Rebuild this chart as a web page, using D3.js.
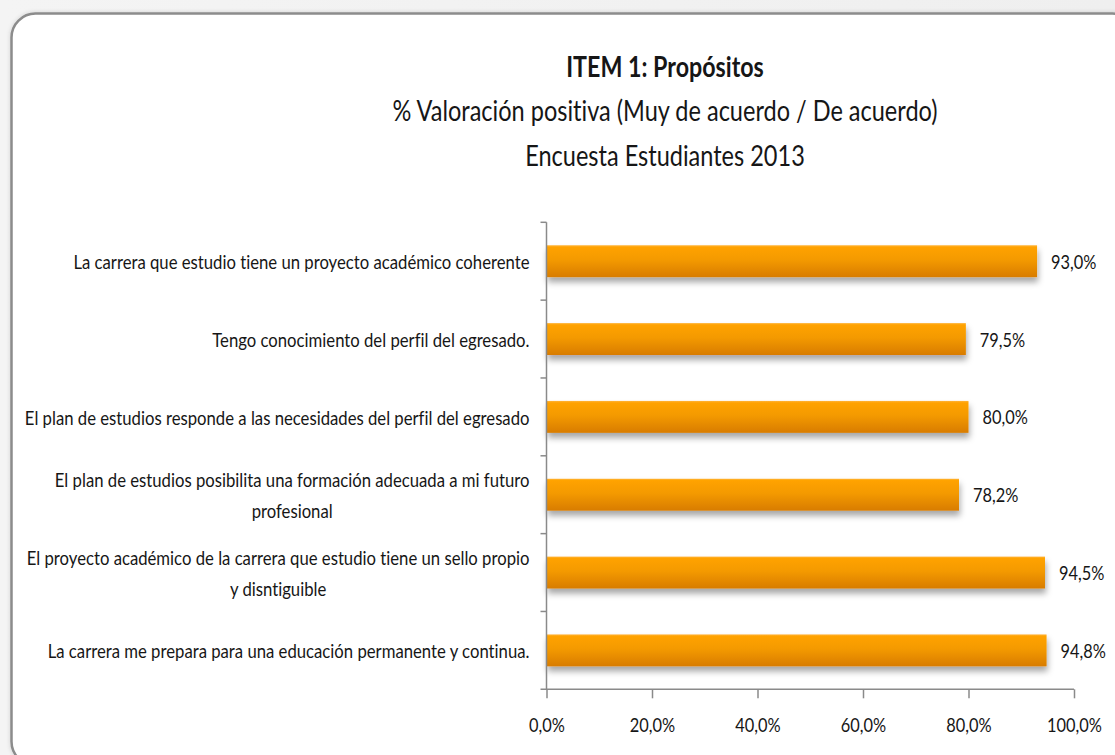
<!DOCTYPE html>
<html>
<head>
<meta charset="utf-8">
<script src="https://cdn.jsdelivr.net/npm/d3@7"></script>
<style>
  html, body { margin: 0; padding: 0; background: #f1f1f1; }
  svg { display: block; }
  text { font-family: Lato, "Open Sans", sans-serif; fill: #161616; font-variant-ligatures: none; font-feature-settings: "liga" 0, "clig" 0; }
</style>
</head>
<body>
<script>
const categories = [
  "La carrera que estudio tiene un proyecto académico coherente",
  "Tengo conocimiento del perfil del egresado.",
  "El plan de estudios responde a las necesidades del perfil del egresado",
  "El plan de estudios posibilita una formación adecuada a mi futuro profesional",
  "El proyecto académico de la carrera que estudio tiene un sello propio y disntiguible",
  "La carrera me prepara para una educación permanente y continua."
];
const categoryLines = [
  ["La carrera que estudio tiene un proyecto académico coherente"],
  ["Tengo conocimiento del perfil del egresado."],
  ["El plan de estudios responde a las necesidades del perfil del egresado"],
  ["El plan de estudios posibilita una formación adecuada a mi futuro", "profesional"],
  ["El proyecto académico de la carrera que estudio tiene un sello propio", "y disntiguible"],
  ["La carrera me prepara para una educación permanente y continua."]
];
const values = [93.0, 79.5, 80.0, 78.2, 94.5, 94.8];
const xTicks = [0, 20, 40, 60, 80, 100];
const titleLines = [
  "ITEM 1: Propósitos",
  "% Valoración positiva (Muy de acuerdo / De acuerdo)",
  "Encuesta Estudiantes 2013"
];

const W = 1115, H = 755;
const margin = { left: 546.5, right: W - 1074, top: 222.3, bottom: H - 689.3 };
const condense = 0.84;   // the reference font is a narrow (Calibri-like) face

const locale = d3.formatLocale({ decimal: ",", thousands: ".", grouping: [3], currency: ["", "€"] });
const fmt = v => locale.format(".1f")(v) + "%";

function narrow(sel, k = condense) {
  sel.each(function () {
    const w = this.getComputedTextLength();
    d3.select(this).attr("textLength", w * k).attr("lengthAdjust", "spacingAndGlyphs");
  });
  return sel;
}

const svg = d3.select("body").append("svg").attr("width", W).attr("height", H);
const defs = svg.append("defs");

const bg = defs.append("linearGradient").attr("id", "pageBg").attr("x1", 0).attr("y1", 0).attr("x2", 1).attr("y2", 0);
bg.append("stop").attr("offset", "0%").attr("stop-color", "#f4f4f4");
bg.append("stop").attr("offset", "100%").attr("stop-color", "#efefef");

const barGrad = defs.append("linearGradient").attr("id", "barGrad").attr("x1", 0).attr("y1", 0).attr("x2", 0).attr("y2", 1);
barGrad.append("stop").attr("offset", "0%").attr("stop-color", "#ffb43a");
barGrad.append("stop").attr("offset", "6%").attr("stop-color", "#ffa200");
barGrad.append("stop").attr("offset", "45%").attr("stop-color", "#f49a00");
barGrad.append("stop").attr("offset", "100%").attr("stop-color", "#d87c00");

const shadow = defs.append("filter").attr("id", "barShadow").attr("x", "-5%").attr("y", "-30%").attr("width", "110%").attr("height", "190%");
shadow.append("feDropShadow").attr("dx", 1).attr("dy", 5).attr("stdDeviation", 3)
  .attr("flood-color", "#000").attr("flood-opacity", 0.35);

const cardShadow = defs.append("filter").attr("id", "cardShadow").attr("x", "-5%").attr("y", "-5%").attr("width", "110%").attr("height", "110%");
cardShadow.append("feDropShadow").attr("dx", 0).attr("dy", 0).attr("stdDeviation", 2)
  .attr("flood-color", "#000").attr("flood-opacity", 0.15);

svg.append("rect").attr("width", W).attr("height", H).attr("fill", "url(#pageBg)");
svg.append("rect")
  .attr("x", 11.5).attr("y", 13.5).attr("width", 1125).attr("height", 752).attr("rx", 24).attr("ry", 24)
  .attr("fill", "#ffffff").attr("stroke", "#8c8c8c").attr("stroke-width", 2.5)
  .attr("filter", "url(#cardShadow)");

// Titles
const titleY = [66, 110, 155];
titleLines.forEach((t, i) => {
  svg.append("text")
    .attr("x", 665).attr("y", titleY[i])
    .attr("text-anchor", "middle").attr("dominant-baseline", "central")
    .style("font-size", "28px")
    .style("font-weight", i === 0 ? "bold" : "normal")
    .text(t)
    .call(narrow, i === 0 ? 0.83 : 0.84);
});

const x = d3.scaleLinear().domain([0, 100]).range([margin.left, W - margin.right]);
const y = d3.scaleBand().domain(categories).range([margin.top, H - margin.bottom]).paddingInner(0.59).paddingOuter(0.295);
const yBand = d3.scaleBand().domain(categories).range([margin.top, H - margin.bottom]);

// Bars
svg.append("g").selectAll("rect").data(values).join("rect")
  .attr("x", x(0))
  .attr("y", (d, i) => y(categories[i]))
  .attr("width", d => x(d) - x(0))
  .attr("height", y.bandwidth())
  .attr("fill", "url(#barGrad)")
  .attr("filter", "url(#barShadow)");

// Value labels
svg.append("g").selectAll("text").data(values).join("text")
  .attr("x", d => x(d) + 14)
  .attr("y", (d, i) => y(categories[i]) + y.bandwidth() / 2)
  .attr("dominant-baseline", "central")
  .style("font-size", "19.5px")
  .text(d => fmt(d))
  .call(narrow);

// Y axis
const axisColor = "#8a8a8a";
const yAxisG = svg.append("g");
yAxisG.append("line")
  .attr("x1", x(0)).attr("x2", x(0))
  .attr("y1", margin.top).attr("y2", H - margin.bottom)
  .attr("stroke", axisColor).attr("stroke-width", 1.5);
const boundaries = categories.map(c => yBand(c));
yAxisG.selectAll("line.tick").data(boundaries).join("line").attr("class", "tick")
  .attr("x1", x(0) - 6).attr("x2", x(0))
  .attr("y1", d => d).attr("y2", d => d)
  .attr("stroke", axisColor).attr("stroke-width", 1.5);

// Category labels
const labelRight = x(0) - 17;
const lineGap = 31;
categoryLines.forEach((lines, i) => {
  const cy = yBand(categories[i]) + yBand.bandwidth() / 2;
  const g = svg.append("g");
  const texts = lines.map((ln, j) => g.append("text")
    .attr("y", cy + (j - (lines.length - 1) / 2) * lineGap)
    .attr("dominant-baseline", "central")
    .attr("text-anchor", "middle")
    .style("font-size", "20px")
    .text(ln)
    .call(narrow, 0.835));
  const maxW = d3.max(texts, t => +t.attr("textLength"));
  texts.forEach(t => t.attr("x", labelRight - maxW / 2));
});

// X axis
const xAxis = d3.axisBottom(x).tickValues(xTicks).tickSize(9).tickFormat(fmt);
const xg = svg.append("g").attr("transform", `translate(0,${H - margin.bottom})`).call(xAxis);
xg.select(".domain").attr("stroke", axisColor).attr("stroke-width", 1.5).attr("d", `M${x(0) - 6},0H${x(100)}`);
xg.selectAll(".tick line").attr("stroke", axisColor).attr("stroke-width", 1.5);
xg.selectAll(".tick text")
  .attr("y", 35).attr("dy", null).attr("dominant-baseline", "central")
  .style("font-size", "19.5px")
  .style("font-family", "Lato, sans-serif")
  .attr("fill", "#161616")
  .call(narrow);
</script>
</body>
</html>
